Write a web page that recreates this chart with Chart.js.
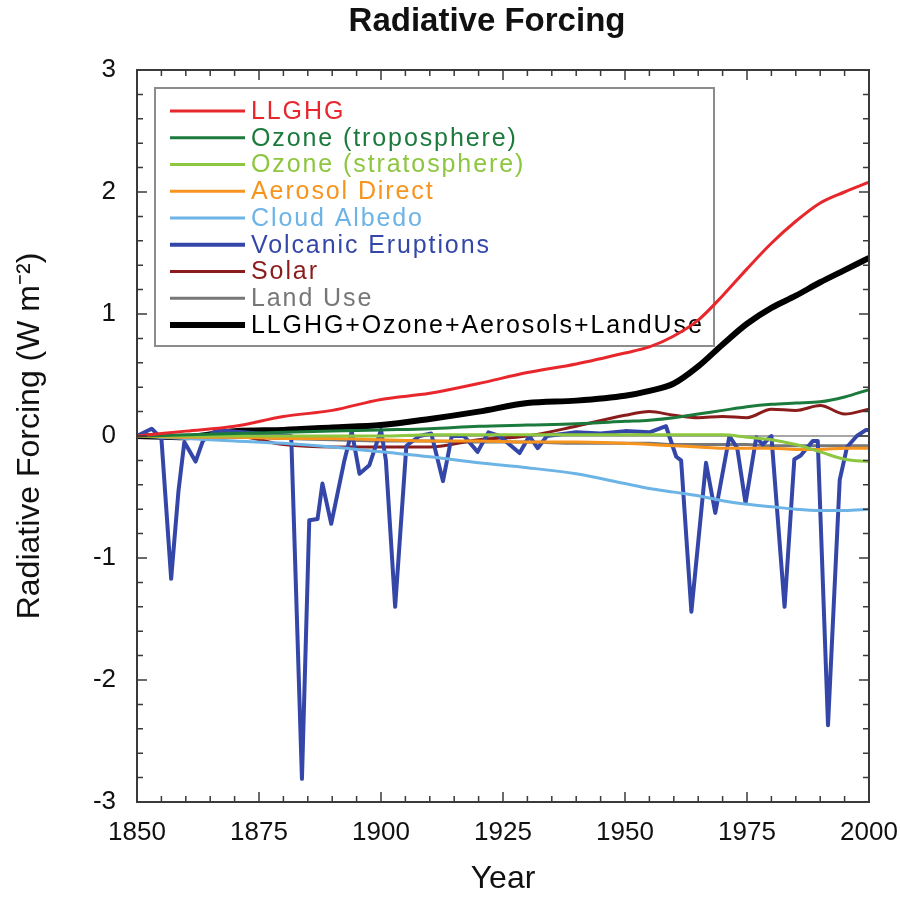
<!DOCTYPE html>
<html>
<head>
<meta charset="utf-8">
<title>Radiative Forcing</title>
<script src="https://cdn.jsdelivr.net/npm/chart.js@4.4.1/dist/chart.umd.min.js"></script>
<style>
  html, body { margin: 0; padding: 0; background: #fff; }
  canvas { display: block; }
</style>
</head>
<body>
<canvas id="chart" width="900" height="898"></canvas>
<script>
// Годы для плавных рядов
const years = [1850, 1860, 1870, 1880, 1890, 1900, 1910, 1920, 1930, 1940, 1950, 1955, 1960, 1965, 1970, 1975, 1980, 1985, 1990, 1995, 2000];

const llghg      = [0, 0.04, 0.08, 0.16, 0.21, 0.30, 0.35, 0.43, 0.52, 0.59, 0.68, 0.73, 0.82, 0.95, 1.15, 1.37, 1.58, 1.76, 1.91, 2.00, 2.08];
const ozoneTrop  = [0, 0.01, 0.02, 0.03, 0.04, 0.05, 0.06, 0.08, 0.09, 0.10, 0.12, 0.13, 0.15, 0.18, 0.21, 0.24, 0.26, 0.27, 0.28, 0.32, 0.38];
const ozoneStrat = [0, 0, 0, 0, 0, 0, 0.01, 0.01, 0.01, 0.01, 0.01, 0.01, 0.01, 0.01, 0.01, -0.01, -0.03, -0.07, -0.13, -0.19, -0.21];
const aerosol    = [0, -0.01, -0.01, -0.02, -0.02, -0.03, -0.04, -0.04, -0.05, -0.05, -0.06, -0.07, -0.08, -0.09, -0.10, -0.10, -0.10, -0.11, -0.11, -0.10, -0.10];
const cloud      = [0, -0.02, -0.04, -0.06, -0.09, -0.13, -0.17, -0.22, -0.26, -0.31, -0.39, -0.43, -0.46, -0.49, -0.53, -0.56, -0.58, -0.60, -0.61, -0.61, -0.60];
const solar      = [0, -0.01, 0, -0.07, -0.09, -0.09, -0.09, -0.03, 0, 0.08, 0.17, 0.20, 0.17, 0.15, 0.16, 0.15, 0.22, 0.21, 0.25, 0.18, 0.22];
const landUse    = [0, -0.01, -0.01, -0.02, -0.03, -0.04, -0.04, -0.05, -0.05, -0.06, -0.06, -0.06, -0.07, -0.07, -0.07, -0.07, -0.08, -0.08, -0.08, -0.08, -0.08];
const total      = [0, -0.01, 0.04, 0.05, 0.07, 0.09, 0.14, 0.20, 0.27, 0.29, 0.33, 0.37, 0.43, 0.57, 0.75, 0.92, 1.05, 1.15, 1.26, 1.36, 1.46];

// Вулканы: свои годы
const volcYears  = [1850, 1853, 1855, 1857, 1858.5, 1859.7, 1862, 1863.5, 1866, 1869, 1875, 1881.6, 1883.8, 1885.3, 1887, 1888, 1889.8, 1892.5, 1894, 1895.6, 1897.6, 1900, 1901, 1902.9, 1905.2, 1907.9, 1910.3, 1912.7, 1914.5, 1917, 1919.8, 1922, 1924.3, 1928.4, 1930.4, 1932.1, 1934, 1940, 1945, 1950, 1955, 1958.4, 1960.5, 1961.5, 1963.6, 1966.6, 1968.5, 1971.4, 1973, 1974.7, 1976.9, 1978.2, 1980, 1982.7, 1984.7, 1986, 1988.5, 1989.5, 1991.6, 1994, 1995.5, 1997.5, 1999.4, 2000];
const volcanic   = [0, 0.06, -0.02, -1.17, -0.45, -0.05, -0.21, -0.04, 0.04, 0.04, 0.02, 0.0, -2.81, -0.69, -0.68, -0.39, -0.72, -0.2, 0.04, -0.31, -0.24, 0.05, -0.2, -1.40, -0.08, 0.0, 0.02, -0.37, 0.0, 0.0, -0.13, 0.03, 0.0, -0.14, 0.0, -0.10, 0.0, 0.03, 0.02, 0.04, 0.03, 0.08, -0.17, -0.20, -1.44, -0.22, -0.63, 0.0, -0.10, -0.55, -0.01, -0.07, 0.0, -1.40, -0.19, -0.16, -0.04, -0.04, -2.37, -0.36, -0.09, 0.0, 0.05, 0.05];

const seriesNames = ['LLGHG', 'Ozone (troposphere)', 'Ozone (stratosphere)', 'Aerosol Direct', 'Cloud Albedo', 'Volcanic Eruptions', 'Solar', 'Land Use', 'LLGHG+Ozone+Aerosols+LandUse'];
const seriesColors = ['#e8272d', '#1b7a3c', '#8dc63f', '#f7941d', '#6cb4e6', '#3447a8', '#8b1c1c', '#777777', '#000000'];
const seriesWidths = [3, 3, 3, 3, 3, 4, 3, 3, 6];

const FONT = "'Liberation Sans', Arial, Helvetica, sans-serif";

const toPoints = (xs, ys) => xs.map((x, i) => ({ x: x, y: ys[i] }));
const seriesData = [
    toPoints(years, llghg),
    toPoints(years, ozoneTrop),
    toPoints(years, ozoneStrat),
    toPoints(years, aerosol),
    toPoints(years, cloud),
    toPoints(volcYears, volcanic),
    toPoints(years, solar),
    toPoints(years, landUse),
    toPoints(years, total)
];

// Рамка, внутренние засечки, нулевая линия, легенда, заголовок
const decorations = {
    id: 'decorations',
    beforeDatasetsDraw(chart) {
        const { ctx, chartArea: a, scales: { y } } = chart;
        ctx.save();
        // нулевая линия
        const y0 = y.getPixelForValue(0);
        ctx.strokeStyle = '#8a8a8a';
        ctx.lineWidth = 1.5;
        ctx.beginPath();
        ctx.moveTo(a.left, y0);
        ctx.lineTo(a.right, y0);
        ctx.stroke();

        // легенда
        const box = { left: 155, top: 88, right: 714, bottom: 346 };
        ctx.fillStyle = '#fff';
        ctx.fillRect(box.left, box.top, box.right - box.left, box.bottom - box.top);
        ctx.strokeStyle = '#8c8c8c';
        ctx.lineWidth = 2;
        ctx.strokeRect(box.left, box.top, box.right - box.left, box.bottom - box.top);
        ctx.font = '25px ' + FONT;
        ctx.letterSpacing = '1.9px';
        ctx.textBaseline = 'middle';
        ctx.textAlign = 'left';
        chart.data.datasets.forEach((ds, i) => {
            const yy = 111 + i * 26.75;
            ctx.strokeStyle = ds.borderColor;
            ctx.lineWidth = ds.borderWidth;
            ctx.beginPath();
            ctx.moveTo(170, yy);
            ctx.lineTo(245, yy);
            ctx.stroke();
            ctx.fillStyle = ds.borderColor;
            ctx.fillText(ds.label, 251, yy + 1);
        });
        ctx.restore();
    },
    afterDatasetsDraw(chart) {
        const { ctx, chartArea: a, scales: { x, y } } = chart;
        ctx.save();
        ctx.strokeStyle = '#3a3a3a';
        ctx.lineWidth = 1.5;
        ctx.beginPath();
        for (let v = 1850; v <= 2000; v += 5) {
            const px = x.getPixelForValue(v);
            const len = v % 25 === 0 ? 10 : 6;
            ctx.moveTo(px, a.bottom); ctx.lineTo(px, a.bottom - len);
            ctx.moveTo(px, a.top); ctx.lineTo(px, a.top + len);
        }
        for (let i = -15; i <= 15; i++) {
            const py = y.getPixelForValue(i / 5);
            const len = i % 5 === 0 ? 10 : 6;
            ctx.moveTo(a.left, py); ctx.lineTo(a.left + len, py);
            ctx.moveTo(a.right, py); ctx.lineTo(a.right - len, py);
        }
        ctx.stroke();
        ctx.lineWidth = 2;
        ctx.strokeRect(a.left, a.top, a.right - a.left, a.bottom - a.top);
        ctx.restore();
    },
    afterDraw(chart) {
        const { ctx } = chart;
        ctx.save();
        ctx.fillStyle = '#111';
        ctx.font = 'bold 33px ' + FONT;
        ctx.textAlign = 'center';
        ctx.textBaseline = 'middle';
        ctx.fillText('Radiative Forcing', 487, 22);
        ctx.restore();
    }
};

new Chart(document.getElementById('chart'), {
    type: 'line',
    data: {
        datasets: seriesNames.map((name, i) => ({
            label: name,
            data: seriesData[i],
            borderColor: seriesColors[i],
            backgroundColor: seriesColors[i],
            borderWidth: seriesWidths[i],
            pointRadius: 0,
            tension: 0,
            cubicInterpolationMode: i === 5 ? 'default' : 'monotone',
            borderJoinStyle: 'round',
            fill: false
        }))
    },
    options: {
        responsive: false,
        animation: false,
        layout: { padding: { top: 70, right: 31, left: 0, bottom: 0 } },
        plugins: {
            legend: { display: false },
            title: { display: false },
            tooltip: { enabled: false }
        },
        scales: {
            x: {
                type: 'linear',
                min: 1850,
                max: 2000,
                grid: { display: false, drawTicks: false },
                border: { display: false },
                ticks: {
                    stepSize: 25,
                    padding: 15,
                    color: '#111',
                    font: { family: FONT, size: 26 },
                    callback: v => String(v)
                },
                title: {
                    display: true,
                    text: 'Year',
                    color: '#111',
                    font: { family: FONT, size: 32 },
                    padding: { top: 0, bottom: 0 }
                },
                afterFit: s => { s.height = 96; s.paddingLeft = 0; s.paddingRight = 0; }
            },
            y: {
                type: 'linear',
                min: -3,
                max: 3,
                grid: { display: false, drawTicks: false },
                border: { display: false },
                ticks: {
                    stepSize: 1,
                    padding: 21,
                    color: '#111',
                    font: { family: FONT, size: 26 },
                    callback: v => String(v)
                },
                title: {
                    display: true,
                    text: 'Radiative Forcing (W m\u207B\u00B2)',
                    color: '#111',
                    font: { family: FONT, size: 32 },
                    padding: { top: 11, bottom: 0 }
                },
                afterFit: s => { s.width = 137; s.paddingTop = 0; s.paddingBottom = 0; }
            }
        }
    },
    plugins: [decorations]
});
</script>
</body>
</html>
